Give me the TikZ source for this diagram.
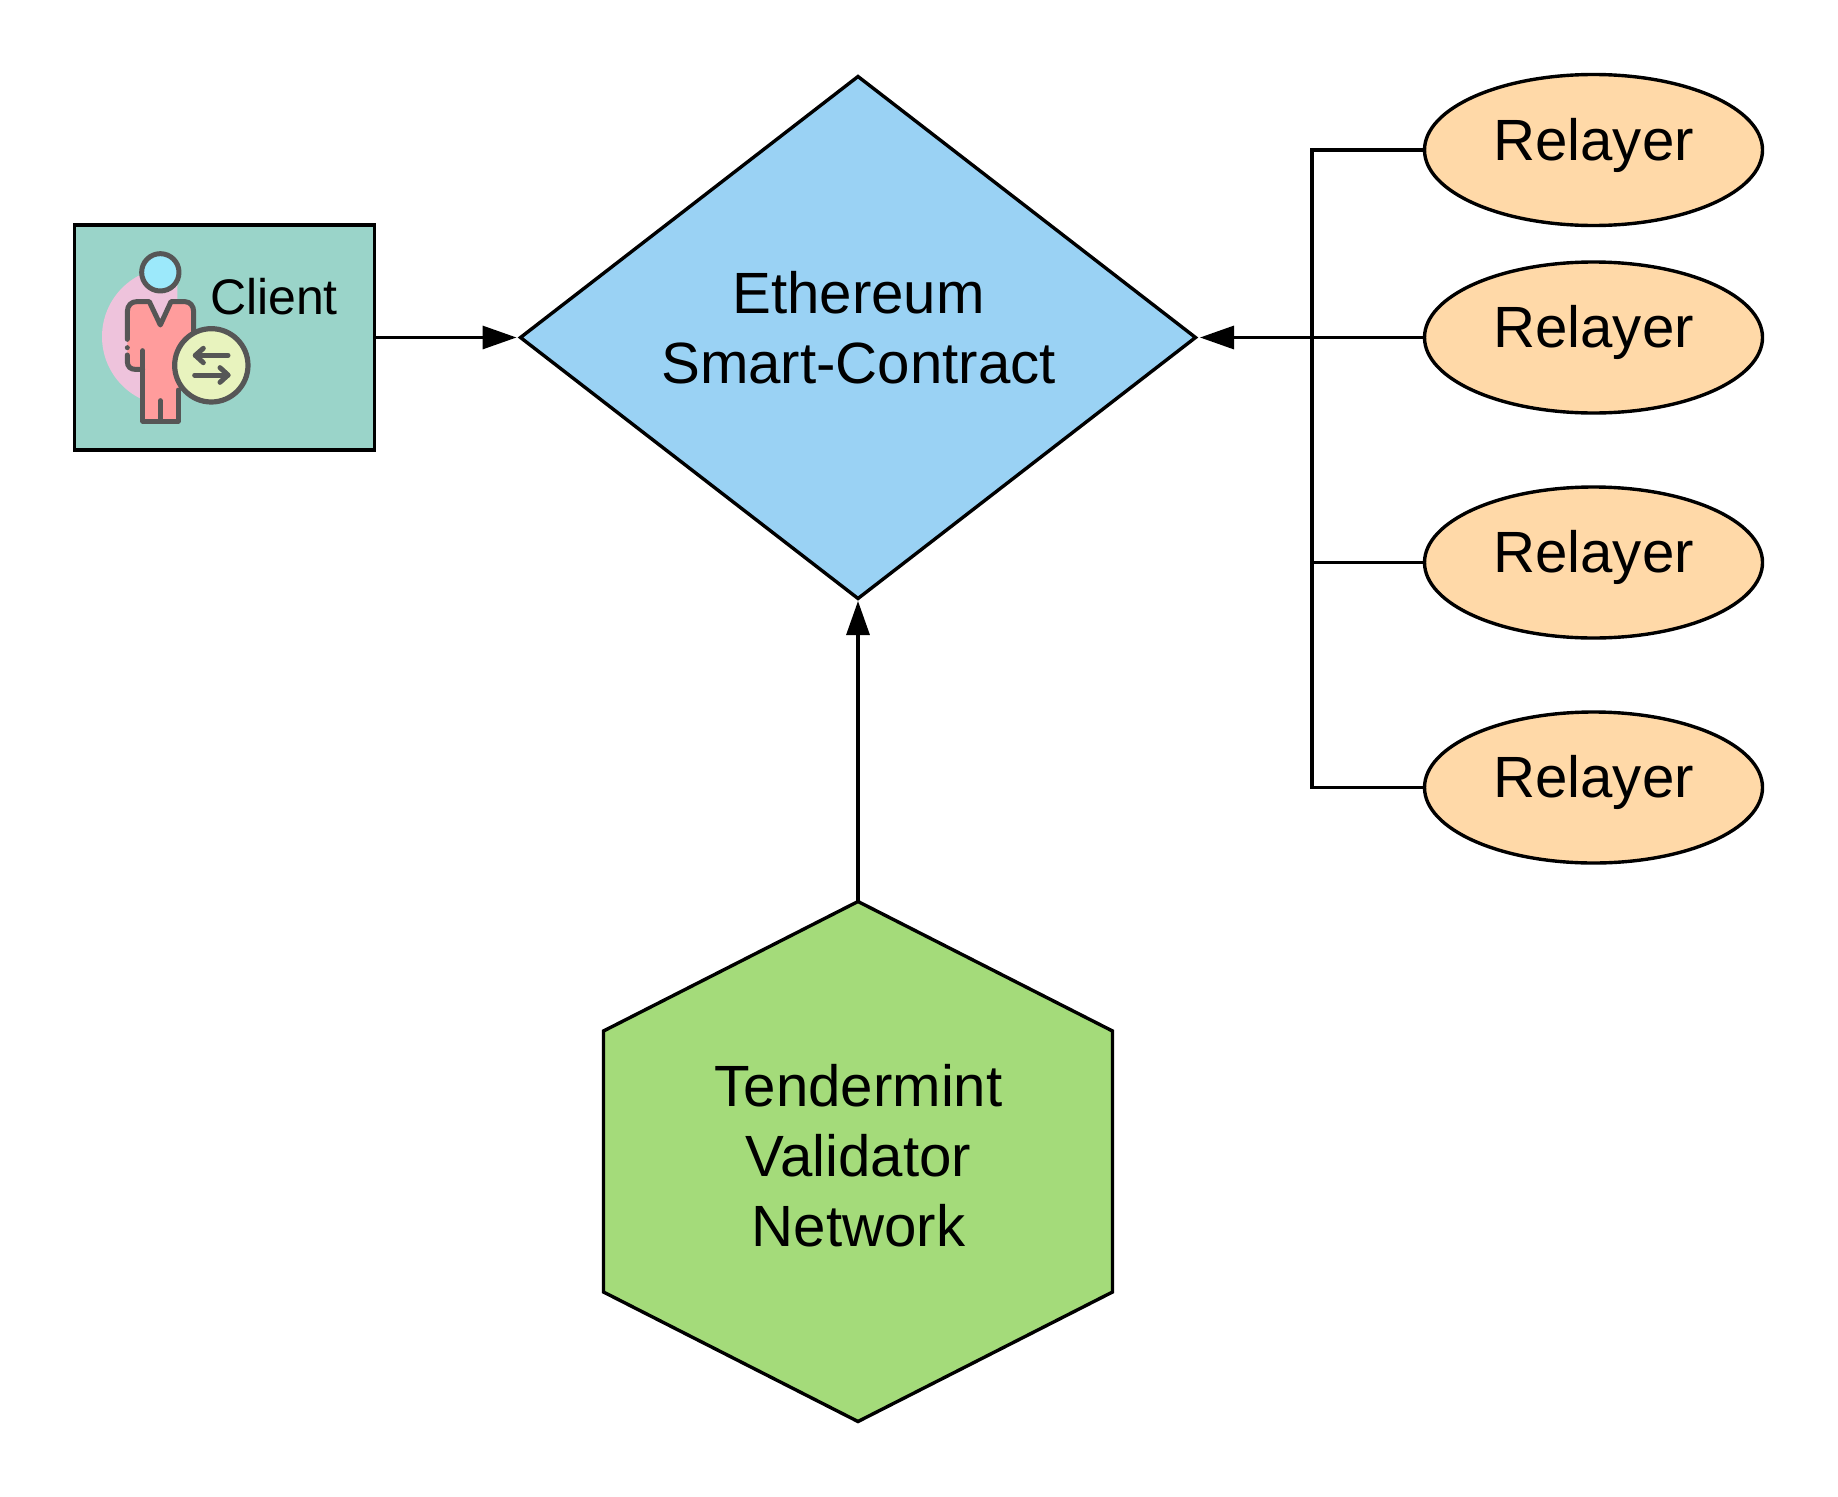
\documentclass[tikz,border=0pt]{standalone}
\usepackage{fontspec}
\setmainfont{Liberation Sans}
\usetikzlibrary{shapes.geometric,arrows.meta,calc}
\definecolor{boxfill}{HTML}{9AD4C9}
\definecolor{diamondfill}{HTML}{9AD2F4}
\definecolor{hexfill}{HTML}{A4DB7A}
\definecolor{relayfill}{HTML}{FFD9A8}
\definecolor{pinkfill}{HTML}{EEC3DC}
\definecolor{iconline}{HTML}{565656}
\definecolor{headfill}{HTML}{9CE9FB}
\definecolor{bodyfill}{HTML}{FF9C9C}
\definecolor{badgefill}{HTML}{E8F3BE}
\tikzset{
  x=1pt,y=-1pt,
  shapeline/.style={draw=black,line width=3.4pt},
  conn/.style={draw=black,line width=3.2pt},
  trunkline/.style={draw=black,line width=3.9pt},
  tip/.style={-{Triangle[length=34pt,width=23pt]}},
  relayer/.style={ellipse,shapeline,fill=relayfill,minimum width=338pt,minimum height=151pt,inner sep=0pt,outer sep=0pt},
  bigtext/.style={font=\fontsize{58.2}{70}\selectfont,anchor=base,inner sep=0pt},
  icon/.style={draw=iconline,line width=5pt,line cap=round,line join=round},
}
\begin{document}
\begin{tikzpicture}
\path[use as bounding box] (0,0) rectangle (1838,1496);
% nodes
\node[rectangle,shapeline,fill=boxfill,minimum width=300pt,minimum height=225pt,inner sep=0pt,outer sep=0pt] (client) at (224.5,337.5) {};
\node[diamond,shapeline,fill=diamondfill,minimum width=675pt,minimum height=522pt,inner sep=0pt,outer sep=0pt,aspect=1.3] (ethereum) at (858,337.5) {};
\node[relayer] (r1) at (1593.5,150) {};
\node[relayer] (r2) at (1593.5,337.5) {};
\node[relayer] (r3) at (1593.5,562.5) {};
\node[relayer] (r4) at (1593.5,787.5) {};
\coordinate (hextop) at (858,901.5);
\draw[shapeline,fill=hexfill,line join=miter] (hextop) -- (1112.5,1031) -- (1112.5,1292) -- (858,1421.5) -- (603.5,1292) -- (603.5,1031) -- cycle;
\coordinate (trunk) at (1312,337.5);
% connectors
\draw[conn,tip] (client.east) -- ($(ethereum.west)+(-4,0)$);
\draw[conn,tip] (r2.west) -- ($(ethereum.east)+(4.5,0)$);
\draw[trunkline] (r1.west) -| (trunk);
\draw[trunkline] (r4.west) -| (trunk);
\draw[conn] (r3.west) -- (r3.west -| trunk);
\draw[conn,tip] (hextop) -- ($(ethereum.south)+(0,2.5)$);
% icon
\begin{scope}[shift={(90,240)},x=0.33333pt,y=-0.33333pt]
  \begin{scope}
    \clip (0,0) rectangle (262,600);
    \fill[pinkfill] (243,290) circle[radius=207pt/3];
  \end{scope}
  \path[fill=bodyfill] (112,300) -- (112,215) .. controls (112,195) and (125,185) .. (140,185) -- (178,185) -- (211,255) -- (243,185) -- (285,185) .. controls (300,185) and (311,198) .. (311,215) -- (311,320) -- (265,450) -- (265,543) -- (158,543) -- (158,388) -- (135,388) .. controls (122,388) and (112,380) .. (112,365) -- cycle;
  \draw[icon] (112,298) -- (112,215) .. controls (112,195) and (125,185) .. (140,185) -- (178,185) -- (211,255) -- (243,185) -- (285,185) .. controls (300,185) and (311,198) .. (311,215) -- (311,320);
  \draw[icon] (112,345) -- (112,365) .. controls (112,380) and (122,388) .. (135,388) -- (158,388);
  \draw[icon] (158,332) -- (158,543) -- (265,543) -- (265,450);
  \draw[icon] (211,482) -- (211,543);
  \fill[iconline] (112,323) circle[radius=7.5pt/3];
  \draw[icon,fill=headfill] (211,97) circle[radius=56pt/3];
  \draw[icon,fill=badgefill,line width=5.2pt] (364,376) circle[radius=110pt/3];
  \draw[icon] (414,346) -- (316,346);
  \draw[icon] (340,325) -- (316,346) -- (340,368);
  \draw[icon] (314,405) -- (414,405);
  \draw[icon] (390,383) -- (414,405) -- (390,427);
\end{scope}
% texts
\node[font=\fontsize{50}{60}\selectfont,anchor=base,inner sep=0pt] (clienttext) at (274,314) {Client};
\node[bigtext] (t1) at (858.5,313) {Ethereum};
\node[bigtext] (t2) at (858.5,383) {Smart-Contract};
\node[bigtext] (t3) at (858.5,1106) {Tendermint};
\node[bigtext] (t4) at (858.5,1176) {Validator};
\node[bigtext] (t5) at (858.5,1246.5) {Network};
\node[bigtext] (l1) at (1593.5,160) {Relayer};
\node[bigtext] (l2) at (1593.5,347.5) {Relayer};
\node[bigtext] (l3) at (1593.5,572.5) {Relayer};
\node[bigtext] (l4) at (1593.5,797.5) {Relayer};
\end{tikzpicture}
\end{document}
